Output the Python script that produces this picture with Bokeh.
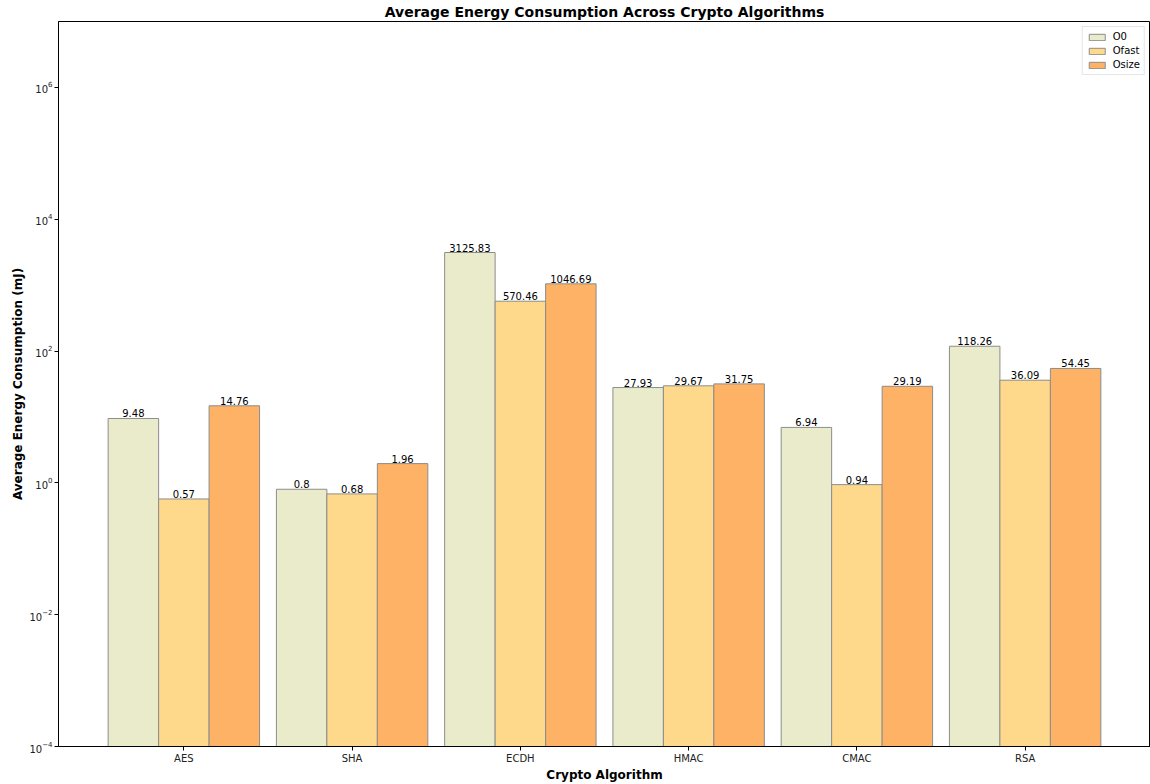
from bokeh.plotting import figure
from bokeh.models import ColumnDataSource, FixedTicker, LogTickFormatter, Legend, LegendItem
from bokeh.core.properties import value
from bokeh.embed import file_html
from bokeh.resources import INLINE

algorithms = ["AES", "SHA", "ECDH", "HMAC", "CMAC", "RSA"]
series_names = ["O0", "Ofast", "Osize"]
o0_values = [9.48, 0.8, 3125.83, 27.93, 6.94, 118.26]
ofast_values = [0.57, 0.68, 570.46, 29.67, 0.94, 36.09]
osize_values = [14.76, 1.96, 1046.69, 31.75, 29.19, 54.45]
y_ticks = [1e-4, 1e-2, 1e0, 1e2, 1e4, 1e6]

colors = ["#eaebcb", "#fed98b", "#fdb266"]
offsets = [-0.3, 0.0, 0.3]
bar_w = 0.3
FONT = "DejaVu Sans"

p = figure(width=1150, height=784, y_axis_type="log",
           x_range=(-0.745, 5.745), y_range=(1e-4, 1e7),
           output_backend="svg", toolbar_location=None,
           title="Average Energy Consumption Across Crypto Algorithms")

p.min_border_left = 58
p.min_border_right = 0
p.min_border_top = 5
p.min_border_bottom = 10

p.title.align = "center"
p.title.text_font = FONT
p.title.text_font_size = "14px"
p.title.text_font_style = "bold"
p.title.text_color = "#000000"
p.title.standoff = 3

p.grid.visible = False
p.outline_line_color = "#000000"
p.outline_line_width = 1
p.background_fill_color = "white"

items = []
for name, vals, col, off in zip(series_names, [o0_values, ofast_values, osize_values], colors, offsets):
    src = ColumnDataSource(dict(
        x=[i + off for i in range(len(algorithms))],
        top=vals,
        bottom=[1e-4] * len(vals),
        label=[str(v) for v in vals],
    ))
    r = p.vbar(x="x", top="top", bottom="bottom", width=bar_w, source=src,
               fill_color=col, line_color="#8c8c8c", line_width=1)
    p.text(x="x", y="top", text="label", source=src, text_align="center",
           text_baseline="bottom", y_offset=-1, text_font_size="10px",
           text_font=value(FONT), text_color="#000000")
    items.append(LegendItem(label=name, renderers=[r]))

legend = Legend(items=items, location="top_right")
legend.label_text_font_size = "10px"
legend.label_text_font = FONT
legend.label_text_color = "#000000"
legend.glyph_width = 20
legend.glyph_height = 8
legend.label_height = 10
legend.label_standoff = 6
legend.spacing = 3
legend.padding = 4
legend.margin = 5
legend.border_line_color = "#cccccc"
legend.background_fill_alpha = 0.8
p.add_layout(legend)

p.xaxis.ticker = FixedTicker(ticks=list(range(len(algorithms))))
p.xaxis.major_label_overrides = {i: a for i, a in enumerate(algorithms)}
p.xaxis.axis_label = "Crypto Algorithm"
p.yaxis.axis_label = "Average Energy Consumption (mJ)"
p.yaxis.ticker = FixedTicker(ticks=y_ticks, minor_ticks=[])
p.yaxis.formatter = LogTickFormatter()

for ax in [p.xaxis, p.yaxis]:
    ax.axis_label_text_font = FONT
    ax.axis_label_text_font_size = "12px"
    ax.axis_label_text_font_style = "bold"
    ax.axis_label_text_color = "#000000"
    ax.major_label_text_font = FONT
    ax.major_label_text_font_size = "10px"
    ax.major_label_text_color = "#222222"
    ax.axis_line_color = "#000000"
    ax.major_tick_line_color = "#000000"
    ax.major_tick_out = 4
    ax.major_tick_in = 0
    ax.minor_tick_line_color = None
    ax.major_label_standoff = 2
    ax.axis_label_standoff = 1

open("out.html", "w").write(file_html(p, INLINE))
